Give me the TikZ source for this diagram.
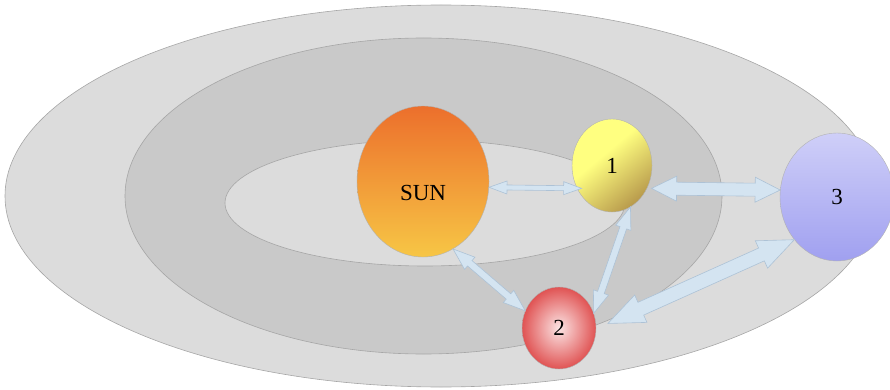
\documentclass[tikz,border=0pt]{standalone}
\usepackage{fontspec}
\setmainfont{Liberation Serif}
\usepackage{tikz}
\usetikzlibrary{calc}
\usetikzlibrary{shapes}
\definecolor{orbitlight}{HTML}{DCDCDC}
\definecolor{orbitdark}{HTML}{C9C9C9}
\definecolor{orbitedge}{HTML}{A6A6A6}
\definecolor{linkfill}{HTML}{D4E4F1}
\definecolor{linkedge}{HTML}{ADC2D6}
\definecolor{suntop}{HTML}{EC6F2C}
\definecolor{sunbottom}{HTML}{F7C645}
\definecolor{oneyellow}{HTML}{FFFF80}
\definecolor{onedark}{HTML}{B89A4C}
\definecolor{twored}{HTML}{E05353}
\definecolor{twolight}{HTML}{FBE4E4}
\definecolor{threetop}{HTML}{CFCFF8}
\definecolor{threebottom}{HTML}{A0A0F0}
\pgfdeclareverticalshading{onefade}{100bp}{color(0bp)=(onedark); color(25bp)=(onedark); color(58bp)=(oneyellow); color(100bp)=(oneyellow)}

% double headed block arrow: from, to, half shaft, half head, head length
\newcommand{\blockarrow}[5]{%
    \coordinate (ta) at (#1);
    \coordinate (tb) at (#2);
    \coordinate (ha) at ($(ta)!#5pt!(tb)$);
    \coordinate (hb) at ($(tb)!#5pt!(ta)$);
    \filldraw[link] (ta) -- ($(ha)!#4pt!90:(tb)$) -- ($(ha)!#3pt!90:(tb)$)
        -- ($(hb)!#3pt!-90:(ta)$) -- ($(hb)!#4pt!-90:(ta)$) -- (tb)
        -- ($(hb)!#4pt!90:(ta)$) -- ($(hb)!#3pt!90:(ta)$)
        -- ($(ha)!#3pt!-90:(tb)$) -- ($(ha)!#4pt!-90:(tb)$) -- cycle;}

\tikzset{link/.style={fill=linkfill, draw=linkedge, line width=0.6pt, line join=miter}}

\begin{document}
\begin{tikzpicture}[x=1pt, y=-1pt]
            \useasboundingbox (0,0) rectangle (890,390);
            \filldraw[fill=orbitlight, draw=orbitedge, line width=0.6pt] (441,196) ellipse [x radius=436, y radius=191];
            \filldraw[fill=orbitdark, draw=orbitedge, line width=0.6pt] (423.5,196) ellipse [x radius=298.5, y radius=158];
            \filldraw[fill=orbitlight, draw=orbitedge, line width=0.6pt] (425,203) ellipse [x radius=200, y radius=63];
            \begin{scope}[every node/.style={ellipse,
                draw=gray!60,
                line width=0.4pt,
                inner sep=0pt,
                text=black,
                font=\fontsize{23}{27}\selectfont}]
                \node[minimum width=132, minimum height=151, text height=38pt, text depth=0pt,
                    top color=suntop, bottom color=sunbottom] at (423,181.5) (sun) {SUN};
                \node[minimum width=80, minimum height=93, shading=onefade, shading angle=40] at (612,165.5) (one) {1};
                \node[minimum width=74, minimum height=82, inner color=twolight, outer color=twored] at (559,328) (two) {2};
                \node[minimum width=114, minimum height=128, top color=threetop, bottom color=threebottom] at (837,197) (three) {3};
            \end{scope}
            \blockarrow{sun.-5}{$(one.center)!.9!(one.217)$}{2.5}{6.5}{18}
            \blockarrow{$(one.center)!1.1!(one.-30)$}{three.173}{6.5}{12.5}{25}
            \blockarrow{one.-66}{two.23}{3.5}{8}{22}
            \blockarrow{sun.-66}{two.153}{3.5}{8}{22}
            \blockarrow{$(two.7)+(12,0)$}{three.225}{7}{15}{36}
        \end{tikzpicture}
\end{document}
